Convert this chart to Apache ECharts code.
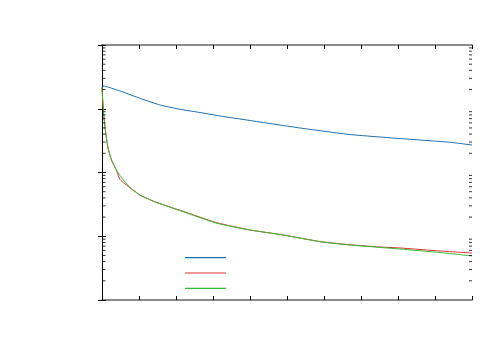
<!DOCTYPE html>
<html><head><meta charset="utf-8">
<script src="https://cdn.jsdelivr.net/npm/echarts@6/dist/echarts.min.js"></script>
<style>html,body{margin:0;padding:0;background:#fff}#c{width:500px;height:350px}</style>
</head><body><div id="c"></div>
<script>
var seriesNames = ['s1', 's2', 's3'];
var blueX = [0, 0.035, 0.486, 1.027, 1.568, 2.108, 2.649, 3.189, 4.0, 5.351, 6.703, 8.054, 9.405, 10];
var blueY = [0.2116, 0.2275, 0.1899, 0.1458, 0.1145, 0.098, 0.0873, 0.077, 0.0654, 0.0499, 0.0394, 0.0341, 0.0298, 0.027];
var greenX = [0, 0.019, 0.054, 0.108, 0.162, 0.257, 0.397, 0.532, 0.757, 1.027, 1.424, 2.189, 3.1, 4.0, 4.892, 5.892, 6.703, 8.054, 9.135, 10];
var greenY = [0.2116, 0.1372, 0.0716, 0.0387, 0.02423, 0.0157, 0.01075, 0.0082, 0.00582, 0.00444, 0.00348, 0.00243, 0.0016, 0.001253, 0.001046, 0.000821, 0.000729, 0.000631, 0.000556, 0.00049];
var redX = [0, 0.019, 0.054, 0.108, 0.162, 0.257, 0.397, 0.486, 0.757, 0.892, 1.027, 1.424, 2.189, 3.1, 4.0, 4.892, 5.892, 6.703, 7.514, 8.054, 9.135, 10];
var redY = [0.2116, 0.1372, 0.0716, 0.0387, 0.02423, 0.0157, 0.0106, 0.00777, 0.00575, 0.00504, 0.0044, 0.00348, 0.00246, 0.00163, 0.001253, 0.00105, 0.000825, 0.000735, 0.000678, 0.000655, 0.000587, 0.000546];
var minorTickValues = [];
[0.0001, 0.001, 0.01, 0.1].forEach(function (d) {
  for (var k = 2; k <= 9; k++) minorTickValues.push(+(k * d).toPrecision(3));
});
function zip(a, b) { return a.map(function (v, i) { return [v, b[i]]; }); }
var axisBase = {
  axisLabel: { show: false }, splitLine: { show: false },
  axisTick: { inside: true, length: 4, lineStyle: { color: '#000' } }
};
function minorSeries(xVal, offset) {
  return { type: 'scatter', silent: true, clip: false, z: 5, symbol: 'rect',
    symbolSize: [3, 1], symbolOffset: [offset, 0], itemStyle: { color: '#000' },
    data: minorTickValues.map(function (v) { return [xVal, v]; }) };
}
function lineSeries(i, xs, ys, color) {
  return { name: seriesNames[i], type: 'line', data: zip(xs, ys), symbol: 'none', smooth: 0.15,
    lineStyle: { color: color, width: 1 }, itemStyle: { color: color } };
}
var chart = echarts.init(document.getElementById('c'));
chart.setOption({
  animation: false,
  grid: { left: 102, right: 28, top: 45, bottom: 50 },
  legend: {
    orient: 'vertical', left: 185, top: 257, padding: 0, icon: 'rect',
    itemWidth: 41, itemHeight: 1.2, itemGap: 14.2,
    textStyle: { fontSize: 1, lineHeight: 1 },
    formatter: function () { return ''; }, data: seriesNames
  },
  xAxis: [
    Object.assign({ type: 'value', min: 0, max: 10, interval: 1, position: 'bottom',
      axisLine: { lineStyle: { color: '#666', width: 1.5 } } }, axisBase),
    Object.assign({ type: 'value', min: 0, max: 10, interval: 1, position: 'top',
      axisLine: { lineStyle: { color: '#666', width: 1.5 } } }, axisBase)
  ],
  yAxis: [
    Object.assign({ type: 'log', logBase: 10, min: 0.0001, max: 1, position: 'left',
      axisLine: { show: true, lineStyle: { color: '#000', width: 1 } } }, axisBase),
    Object.assign({ type: 'log', logBase: 10, min: 0.0001, max: 1, position: 'right',
      axisLine: { show: true, lineStyle: { color: '#000', width: 1 } } }, axisBase)
  ],
  series: [
    minorSeries(0.001, 2),
    minorSeries(10, -1.5),
    lineSeries(0, blueX, blueY, '#1f6fb4'),
    lineSeries(1, redX, redY, '#e03232'),
    lineSeries(2, greenX, greenY, '#33bb33')
  ]
});
</script></body></html>
